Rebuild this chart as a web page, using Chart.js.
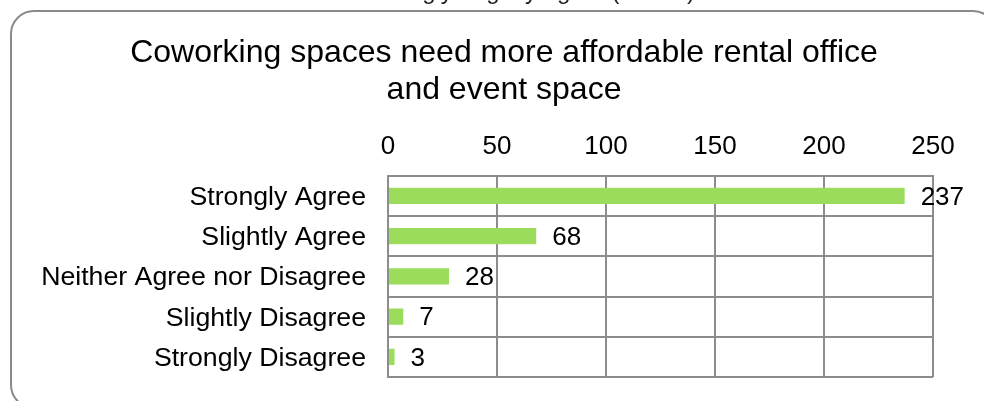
<!DOCTYPE html>
<html>
<head>
<meta charset="utf-8">
<style>
  html, body { margin: 0; padding: 0; background: #ffffff; }
  #wrap { width: 984px; height: 401px; overflow: hidden; }
</style>
<script src="https://cdn.jsdelivr.net/npm/chart.js@4/dist/chart.umd.min.js"></script>
</head>
<body>
<div id="wrap"><canvas id="chart" width="984" height="401"></canvas></div>
<script>
// Survey responses, top to bottom
const categories = [
  'Strongly Agree',
  'Slightly Agree',
  'Neither Agree nor Disagree',
  'Slightly Disagree',
  'Strongly Disagree'
];
const responses = [237, 68, 28, 7, 3];
const axisTicks = [0, 50, 100, 150, 200, 250];
const titleLines = ['Coworking spaces need more affordable rental office', 'and event space'];
const headerText = 'Strongly/Slightly agree (n=343)';

const FONT = "'Liberation Sans', Arial, Helvetica, sans-serif";
const GRID = '#8c8c8c';

// Rounded frame around the chart, plus the header line running above it
const framePlugin = {
  id: 'frame',
  afterLayout(chart) {
    // centre the title over the framed panel rather than the whole canvas
    const t = chart.titleBlock;
    if (t) { t.left = 75; t.right = 933; t.width = t.right - t.left; }
  },
  beforeDraw(chart) {
    const ctx = chart.ctx;
    ctx.save();
    ctx.fillStyle = '#ffffff';
    ctx.fillRect(0, 0, chart.width, chart.height);
    ctx.strokeStyle = '#8a8a8a';
    ctx.lineWidth = 2;
    ctx.beginPath();
    ctx.roundRect(11, 11, 985, 397, 23);
    ctx.stroke();
    ctx.fillStyle = '#222222';
    ctx.font = '24px ' + FONT;
    ctx.textAlign = 'right';
    ctx.textBaseline = 'alphabetic';
    ctx.fillText(headerText, 695, -1);
    ctx.restore();
  }
};

// Value printed just past the end of each bar
const valueLabels = {
  id: 'valueLabels',
  afterDatasetsDraw(chart) {
    const ctx = chart.ctx;
    const meta = chart.getDatasetMeta(0);
    const data = chart.data.datasets[0].data;
    ctx.save();
    ctx.fillStyle = '#000000';
    ctx.font = '26px ' + FONT;
    ctx.textAlign = 'left';
    ctx.textBaseline = 'middle';
    meta.data.forEach((bar, i) => {
      ctx.fillText(String(data[i]), bar.x + 16, bar.y + 1.5);
    });
    ctx.restore();
  }
};

new Chart(document.getElementById('chart'), {
  type: 'bar',
  data: {
    labels: categories,
    datasets: [{
      data: responses,
      backgroundColor: '#9bdc5c',
      borderWidth: 0,
      barPercentage: 0.4,
      categoryPercentage: 1.0
    }]
  },
  options: {
    indexAxis: 'y',
    responsive: false,
    animation: false,
    devicePixelRatio: 1,
    layout: { padding: { left: 20, right: 51, top: 0, bottom: 24 } },
    plugins: {
      legend: { display: false },
      tooltip: { enabled: false },
      title: {
        display: true,
        text: titleLines,
        color: '#000000',
        font: { family: FONT, size: 32, weight: 'normal', lineHeight: 1.15 },
        padding: { top: 35, bottom: 0 }
      }
    },
    scales: {
      x: {
        position: 'top',
        min: axisTicks[0],
        max: axisTicks[axisTicks.length - 1],
        afterBuildTicks(scale) { scale.ticks = axisTicks.map(v => ({ value: v })); },
        afterFit(scale) { scale.height = 67.2; },
        ticks: {
          color: '#000000',
          font: { family: FONT, size: 26 },
          padding: 13,
          maxRotation: 0
        },
        grid: { color: GRID, lineWidth: 2, drawTicks: false },
        border: { display: true, color: GRID, width: 2 }
      },
      y: {
        afterFit(scale) {
          scale.width = 368;
          scale.paddingTop = 0;
          scale.paddingBottom = 0;
        },
        ticks: {
          color: '#000000',
          font: { family: FONT, size: 26.7 },
          padding: 22,
          labelOffset: 1.5
        },
        grid: { color: GRID, lineWidth: 2, drawTicks: false, offset: true },
        border: { display: true, color: GRID, width: 2 }
      }
    }
  },
  plugins: [framePlugin, valueLabels]
});
</script>
</body>
</html>
